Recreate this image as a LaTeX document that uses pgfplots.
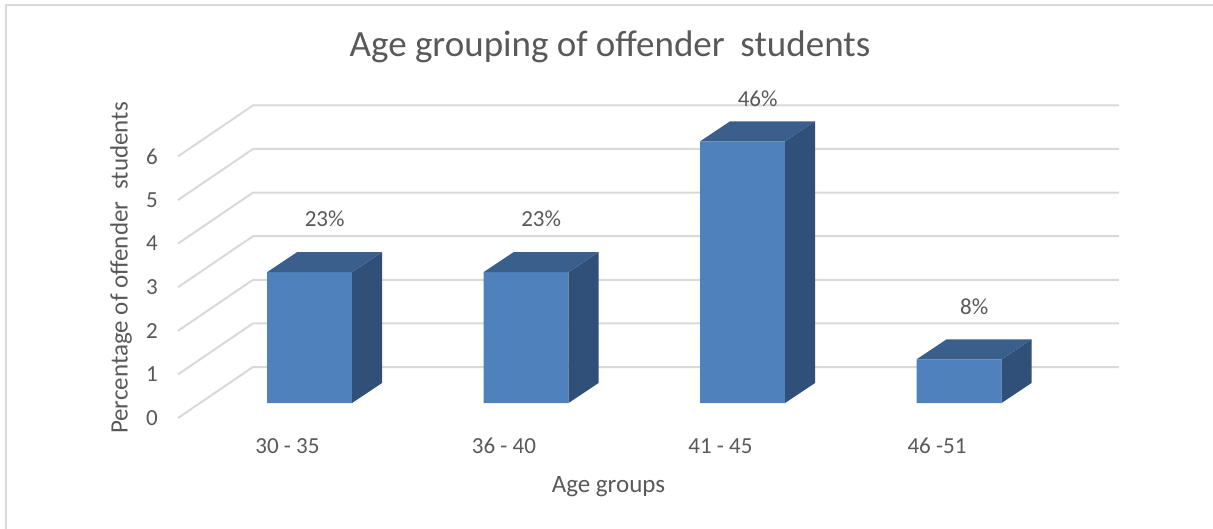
\documentclass[border=0pt]{standalone}
\usepackage{pgfplots}
\pgfplotsset{compat=1.18}
\usepackage{pgfplotstable}
\usepackage{fontspec}
\setmainfont{Carlito}
\definecolor{frontc}{HTML}{4F81BD}
\definecolor{topc}{HTML}{3B5F8C}
\definecolor{sidec}{HTML}{30507A}
\definecolor{gridc}{HTML}{D9D9D9}
\definecolor{txt}{HTML}{595959}

\pgfplotstableread{
x v loff label
0 3 33 23\%
1 3 33 23\%
2 6 23 46\%
3 1 33 8\%
}\data

\begin{document}
\begin{tikzpicture}
\begin{axis}[
  x=216.5pt, y=43.6pt,
  xmin=-0.7, xmax=3.8, ymin=-1.158, ymax=7.5,
  axis line style={draw=none},
  major tick length=0pt,
  clip=false,
  xtick={0,1,2,3},
  xticklabels={30 - 35, 36 - 40, 41 - 45, 46 -51},
  xticklabel style={anchor=base, xshift=-22pt, inner sep=0pt, font=\fontsize{23}{27}\selectfont, text=txt},
  ytick={0,1,2,3,4,5,6},
  yticklabel style={anchor=east, inner sep=0pt, yshift=-15pt, font=\fontsize{23}{27}\selectfont, text=txt},
  /pgf/number format/assume math mode=true,
  xlabel={Age groups},
  ylabel={Percentage of offender\hspace{0.25em} students},
  xlabel style={at={(axis cs:1.381,-1.927)}, anchor=center, inner sep=0pt, font=\fontsize{25}{30}\selectfont, text=txt},
  ylabel style={at={(axis cs:-0.8707,3.096)}, anchor=center, inner sep=0pt, font=\fontsize{25}{30}\selectfont, text=txt},
]
\pgfplotsinvokeforeach{0,...,6}{
  \draw[gridc, line width=2pt] (axis cs:-0.6074,{#1-0.344}) -- (axis cs:-0.261,{#1+0.8257}) -- (axis cs:3.7388,{#1+0.8257});
}
\addplot[ybar, bar width=85pt, fill=frontc, draw=none] table[x=x, y=v] {\data};
\pgfplotsinvokeforeach{0,...,3}{
  \pgfplotstablegetelem{#1}{v}\of\data
  \let\val\pgfplotsretval
  \pgfplotstablegetelem{#1}{x}\of\data
  \let\xc\pgfplotsretval
  \pgfmathsetmacro\xl{\xc-0.1963}
  \pgfmathsetmacro\xr{\xc+0.1963}
  \pgfmathsetmacro\xlb{\xc-0.1963+0.1386}
  \pgfmathsetmacro\xrb{\xc+0.1963+0.1386}
  \pgfmathsetmacro\vb{\val+0.4587}
  \addplot[fill=sidec, draw=none] coordinates {(\xr,0) (\xrb,0.4587) (\xrb,\vb) (\xr,\val)} --cycle;
  \addplot[fill=topc, draw=none] coordinates {(\xl,\val) (\xlb,\vb) (\xrb,\vb) (\xr,\val)} --cycle;
}
\addplot[draw=none, nodes near coords, point meta=explicit symbolic,
  nodes near coords align={anchor=center},
  every node near coord/.append style={font=\fontsize{23}{27}\selectfont, text=txt, anchor=center}]
  table[x expr=\thisrow{x}+0.07, y expr=\thisrow{v}+0.4587+\thisrow{loff}/43.6, meta=label] {\data};
\coordinate (O) at (axis cs:0,0);
\end{axis}
\pgfresetboundingbox
\path[use as bounding box] (O) ++(-309.5pt,-125pt) rectangle ++(1213pt,528pt);
\draw[gridc, line width=2.5pt] ([shift={(-303.5pt,-126pt)}]O) -- ([shift={(-303.5pt,398pt)}]O) -- ([shift={(904pt,398pt)}]O);
\node[anchor=base, font=\fontsize{37}{44}\selectfont, text=txt, inner sep=0pt] at ([shift={(300.5pt,346pt)}]O) {Age grouping of offender\hspace{0.2em} students};
\end{tikzpicture}
\end{document}
